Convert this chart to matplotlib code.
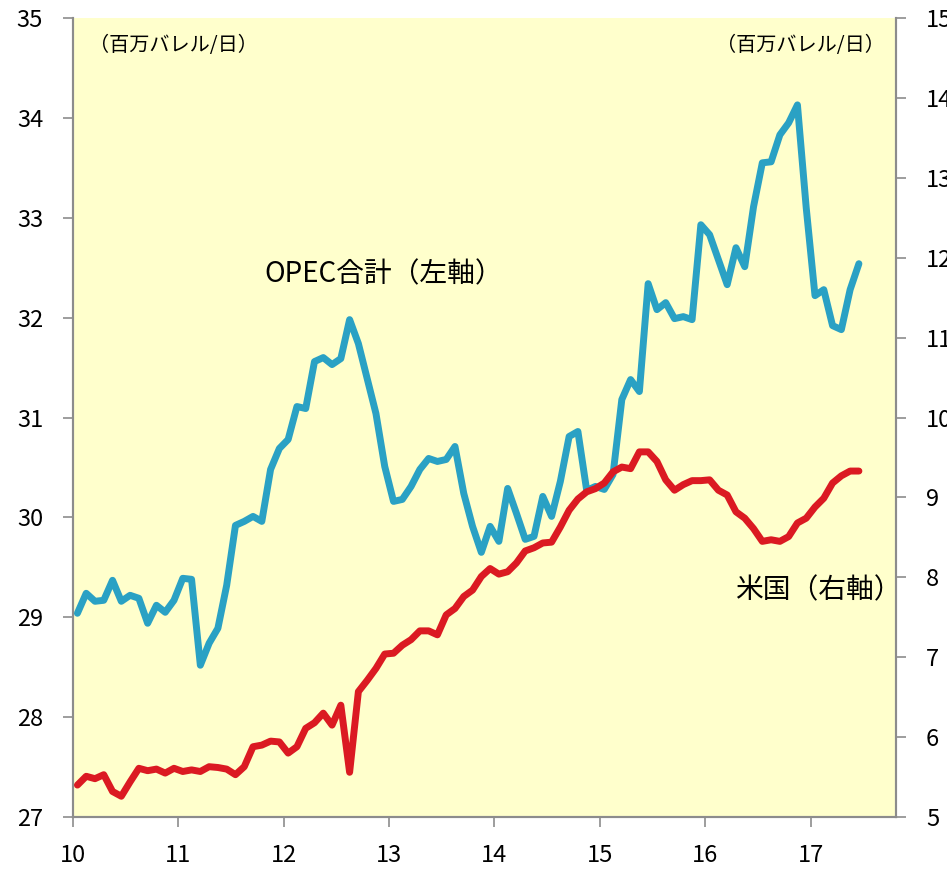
import matplotlib
matplotlib.use("Agg")
import matplotlib.pyplot as plt
import numpy as np

plt.rcParams["font.family"] = ["Noto Sans CJK JP", "DejaVu Sans"]

# monthly data, Jan 2010 - Jun 2017 (million barrels / day)
opec_total = [
    29.04, 29.24, 29.16, 29.17, 29.37, 29.16, 29.22, 29.19, 28.94, 29.12, 29.05, 29.17,
    29.39, 29.38, 28.52, 28.74, 28.89, 29.32, 29.92, 29.96, 30.01, 29.96, 30.48, 30.69,
    30.78, 31.11, 31.09, 31.56, 31.60, 31.53, 31.59, 31.98, 31.74, 31.39, 31.04, 30.51,
    30.16, 30.18, 30.31, 30.48, 30.59, 30.56, 30.58, 30.71, 30.24, 29.91, 29.65, 29.91,
    29.76, 30.29, 30.04, 29.78, 29.81, 30.21, 30.01, 30.36, 30.81, 30.86, 30.27, 30.31,
    30.28, 30.43, 31.18, 31.38, 31.26, 32.34, 32.08, 32.15, 31.99, 32.01, 31.98, 32.93,
    32.83, 32.58, 32.33, 32.70, 32.51, 33.11, 33.55, 33.56, 33.83, 33.95, 34.13, 33.10,
    32.22, 32.28, 31.92, 31.88, 32.28, 32.54,
]
us_output = [
    5.40, 5.51, 5.48, 5.53, 5.32, 5.26, 5.44, 5.61, 5.58, 5.60, 5.55, 5.61,
    5.57, 5.59, 5.57, 5.63, 5.62, 5.60, 5.53, 5.63, 5.88, 5.90, 5.95, 5.94,
    5.80, 5.88, 6.11, 6.18, 6.30, 6.15, 6.40, 5.56, 6.57, 6.71, 6.86, 7.04,
    7.05, 7.15, 7.22, 7.33, 7.33, 7.28, 7.53, 7.61, 7.76, 7.84, 8.01, 8.11,
    8.04, 8.07, 8.18, 8.33, 8.37, 8.43, 8.44, 8.63, 8.84, 8.98, 9.07, 9.11,
    9.18, 9.32, 9.38, 9.36, 9.57, 9.57, 9.45, 9.22, 9.09, 9.16, 9.21, 9.21,
    9.22, 9.09, 9.03, 8.82, 8.74, 8.61, 8.45, 8.47, 8.45, 8.51, 8.68, 8.74,
    8.88, 8.99, 9.18, 9.27, 9.33, 9.33,
]
year_ticks = [10, 11, 12, 13, 14, 15, 16, 17]
left_ticks = [27, 28, 29, 30, 31, 32, 33, 34, 35]
right_ticks = [5, 6, 7, 8, 9, 10, 11, 12, 13, 14, 15]

x = 10 + (np.arange(len(opec_total)) + 0.5) / 12

fig = plt.figure(figsize=(9.47, 8.73), dpi=100)
ax = fig.add_axes([0.0771, 0.0641, 0.8690, 0.9153])
ax.set_facecolor("#FFFFCC")
ax2 = ax.twinx()

ax.plot(x, opec_total, color="#2AA1C4", lw=5.0, solid_joinstyle="round",
        solid_capstyle="round")
ax2.plot(x, us_output, color="#DB1A22", lw=5.0, solid_joinstyle="round",
         solid_capstyle="round")

ax.set_xlim(10, 17.81)
ax.set_ylim(27, 35)
ax2.set_ylim(5, 15)
ax.set_xticks(year_ticks)
ax.set_yticks(left_ticks)
ax2.set_yticks(right_ticks)

for a in (ax, ax2):
    a.spines["top"].set_visible(False)
    for s in ("left", "right", "bottom"):
        a.spines[s].set_color("#8C8C8C")
        a.spines[s].set_linewidth(1.5)
ax.tick_params(axis="both", direction="out", length=7.5, width=1.2, color="#8C8C8C",
               labelsize=17)
ax.tick_params(axis="x", pad=12)
ax.tick_params(axis="y", pad=14)
# right-hand labels run past the figure edge, as in the original
ax2.tick_params(axis="y", direction="out", length=7.5, width=1.2, color="#8C8C8C",
                labelsize=17, pad=14)

ax.text(0.02, 0.966, "（百万バレル/日）", transform=ax.transAxes, fontsize=14.5,
        ha="left", va="center")
ax.text(0.987, 0.966, "（百万バレル/日）", transform=ax.transAxes, fontsize=14.5,
        ha="right", va="center")
ax.text(12.95, 32.43, "OPEC合計（左軸）", fontsize=20, ha="center", va="center")
ax2.text(17.07, 7.84, "米国（右軸）", fontsize=20, ha="center", va="center")

fig.savefig("out.png", dpi=100)
